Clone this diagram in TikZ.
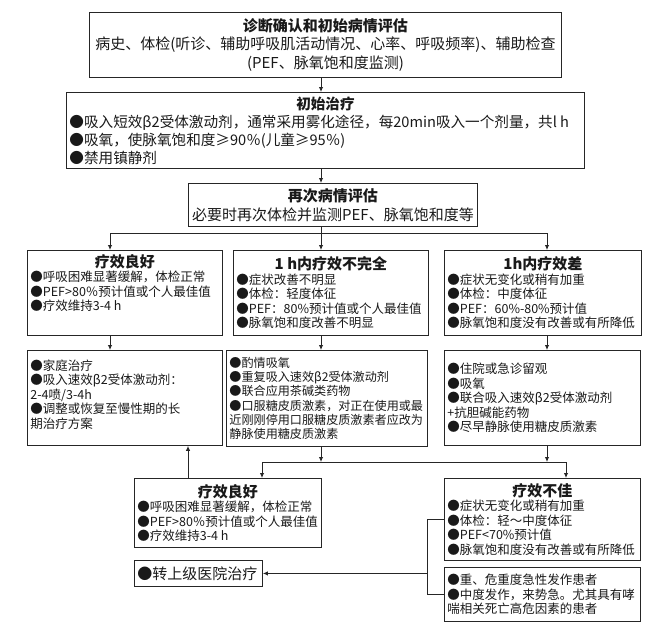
\documentclass[tikz,border=0pt]{standalone}
\usepackage{fontspec}
\setmainfont{Noto Sans CJK SC}
\usetikzlibrary{arrows.meta}

\tikzset{
    fcbox/.style={draw=black!85, line width=0.9pt, inner xsep=3pt, inner ysep=1pt,
        anchor=north west, text=black!90},
    fcline/.style={draw=black!85, line width=0.9pt},
    fcarrow/.style={fcline, -{Latex[length=5pt,width=4.5pt]}},
}
% name, x, y, width, height, inner position, text
\newcommand{\fcBox}[7]{%
    \node[fcbox] (#1) at (#2,#3)
        {\parbox[t][\dimexpr#5pt-2pt\relax][#6]{\dimexpr#4pt-6pt\relax}{#7}};
}
\newcommand{\fcTitle}[1]{{\centering\fontsize{15}{17.5}\selectfont\bfseries #1\par}}
\newcommand{\fcBig}{\fontsize{15}{18.5}\selectfont}
\newcommand{\fcBody}{\fontsize{12.5}{14.5}\selectfont\raggedright}

\begin{document}
\begin{tikzpicture}[x=1pt, y=-1pt]
    \useasboundingbox (0,0) rectangle (656,633);

    \fcBox{diag}{89}{12}{472}{65}{c}{\fcBig\centering
        {\bfseries 诊断确认和初始病情评估}\\
        病史、体检(听诊、辅助呼吸肌活动情况、心率、呼吸频率)、辅助检查\\
        (PEF、脉氧饱和度监测)}
    \fcBox{init}{66}{92}{518}{76}{c}{\fontsize{14.6}{18}\selectfont
        {\centering\bfseries 初始治疗\par}\raggedright
        ●吸入短效β2受体激动剂，通常采用雾化途径，每20min吸入一个剂量，共l~h\\
        ●吸氧，使脉氧饱和度≥90％(儿童≥95％)\\
        ●禁用镇静剂}
    \fcBox{reeval}{188}{183}{289}{43}{c}{\fcBig\centering
        {\bfseries 再次病情评估}\\
        必要时再次体检并监测PEF、脉氧饱和度等}

    % first assessment
    \fcBox{good1}{27}{250}{195}{85}{t}{\vspace*{3pt}\fcTitle{疗效良好}\fcBody
        ●呼吸困难显著缓解，体检正常\\
        ●PEF>80％预计值或个人最佳值\\
        ●疗效维持3-4 h}
    \fcBox{partial}{233}{250}{195}{85}{c}{\fcTitle{1 h内疗效不完全}\fcBody
        ●症状改善不明显\\
        ●体检：轻度体征\\
        ●PEF：80\%预计值或个人最佳值\\
        ●脉氧饱和度改善不明显}
    \fcBox{poor}{444}{250}{197}{85}{c}{\fcTitle{1h内疗效差}\fcBody
        ●症状无变化或稍有加重\\
        ●体检：中度体征\\
        ●PEF：60\%-80\%预计值\\
        ●脉氧饱和度没有改善或有所降低}

    % treatment
    \fcBox{home}{27}{350}{195}{95}{t}{\vspace*{8pt}\fcBody
        ●家庭治疗\\
        ●吸入速效β2受体激动剂：\\
        2-4喷/3-4h\\
        ●调整或恢复至慢性期的长\\
        期治疗方案}
    \fcBox{oxy}{226}{350}{201}{96}{c}{\fontsize{12.1}{14.2}\selectfont\raggedright
        ●酌情吸氧\\
        ●重复吸入速效β2受体激动剂\\
        ●联合应用茶碱类药物\\
        ●口服糖皮质激素，对正在使用或最\\
        近刚刚停用口服糖皮质激素者应改为\\
        静脉使用糖皮质激素}
    \fcBox{hosp}{444}{350}{196}{95}{c}{\fcBody
        ●住院或急诊留观\\
        ●吸氧\\
        ●联合吸入速效β2受体激动剂\\
        +抗胆碱能药物\\
        ●尽早静脉使用糖皮质激素}

    % second assessment
    \fcBox{good2}{134}{478}{187}{69}{c}{\fcTitle{疗效良好}\fcBody
        ●呼吸困难显著缓解，体检正常\\
        ●PEF>80％预计值或个人最佳值\\
        ●疗效维持3-4 h}
    \fcBox{bad}{444}{478}{196}{82}{c}{\fcTitle{疗效不佳}\fcBody
        ●症状无变化或稍有加重\\
        ●体检：轻～中度体征\\
        ●PEF<70\%预计值\\
        ●脉氧饱和度没有改善或有所降低}
    \fcBox{transfer}{134}{560}{128}{26}{c}{\fcBig ●转上级医院治疗}
    \fcBox{severe}{444}{567}{196}{54}{c}{\fcBody
        ●重、危重度急性发作患者\\
        ●中度发作，来势急。尤其具有哮\\
        喘相关死亡高危因素的患者}

    \coordinate (axis) at (321,0);
    \coordinate (colL) at (110,0);
    \coordinate (colR) at (547,0);
    \coordinate (upx) at (188,0);
    \coordinate (joinL) at (262,0);
    \coordinate (joinR) at (566,0);
    \coordinate (brk) at (427,0);
    \coordinate (split) at (0,233);
    \coordinate (merge) at (0,462);

    \draw[fcarrow] (diag.south -| axis) -- (init.north -| axis);
    \draw[fcarrow] (init.south -| axis) -- (reeval.north -| axis);
    \draw[fcline] (reeval.south -| axis) -- (split -| axis);
    \draw[fcline] (split -| colL) -- (split -| colR);
    \draw[fcarrow] (split -| colL) -- (good1.north -| colL);
    \draw[fcarrow] (split -| axis) -- (partial.north -| axis);
    \draw[fcarrow] (split -| colR) -- (poor.north -| colR);
    \draw[fcarrow] (good1.south -| colL) -- (home.north -| colL);
    \draw[fcarrow] (partial.south -| axis) -- (oxy.north -| axis);
    \draw[fcarrow] (poor.south -| colR) -- (hosp.north -| colR);

    \draw[fcarrow] (oxy.south -| axis) -- (merge -| axis);
    \draw[fcarrow] (hosp.south -| colR) -- (merge -| colR);
    \draw[fcline] (merge -| joinL) -- (merge -| joinR);
    \draw[fcarrow] (merge -| joinL) -- (good2.north -| joinL);
    \draw[fcarrow] (merge -| joinR) -- (bad.north -| joinR);
    \draw[fcarrow] (good2.north -| upx) -- (home.south -| upx);

    \draw[fcline] (bad.west) -- (bad.west -| brk) |- (severe.west);
    \draw[fcarrow] (transfer.east -| brk) -- (transfer.east);
\end{tikzpicture}
\end{document}
